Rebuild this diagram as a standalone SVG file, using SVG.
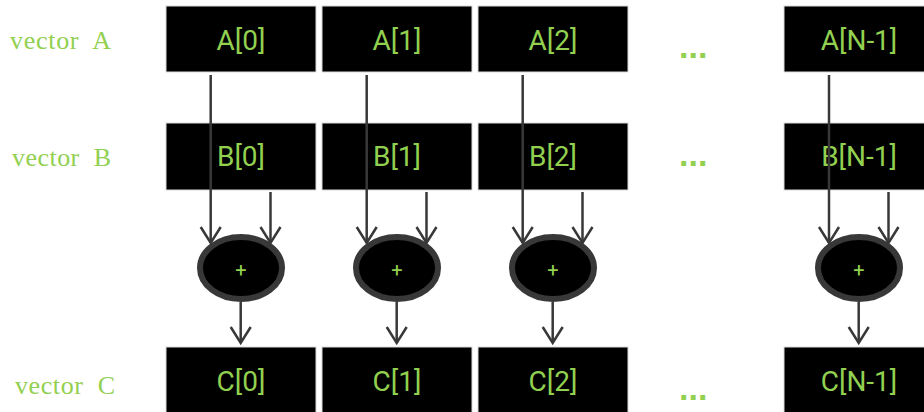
<svg xmlns="http://www.w3.org/2000/svg" width="924" height="412" viewBox="0 0 924 412">
<defs>
<style>
.box{fill:#000;stroke:#d9d9d9;stroke-width:1}
.bt{font-family:Roboto,"Liberation Sans",sans-serif;font-size:28px;fill:#92d050;text-anchor:middle}
.lbl{font-family:"Liberation Serif",serif;font-size:26px;fill:#92d050}
.dots{font-family:"Liberation Sans",sans-serif;font-weight:bold;font-size:34px;fill:#92d050}
.op{fill:#000;stroke:#383838;stroke-width:6}
.pt{font-family:Roboto,"Liberation Sans",sans-serif;font-size:20px;fill:#92d050;text-anchor:middle}
.ln{fill:none;stroke:#383838;stroke-width:2.5;marker-end:url(#ah)}
</style>
<marker id="ah" markerUnits="userSpaceOnUse" viewBox="-20 -14 24 28" markerWidth="24" markerHeight="28" refX="0" refY="0" orient="auto" overflow="visible">
<path d="M-16,-10 L0,0 L-16,10" fill="none" stroke="#383838" stroke-width="2.5"/>
</marker>
</defs>
<g id="labels">
<text class="lbl" x="10" y="48.5" textLength="101" xml:space="preserve">vector  A</text>
<text class="lbl" x="12" y="165.5" textLength="99" xml:space="preserve">vector  B</text>
<text class="lbl" x="15" y="394" textLength="100" xml:space="preserve">vector  C</text>
<text class="dots" x="679" y="58">...</text>
<text class="dots" x="679" y="165.5">...</text>
<text class="dots" x="679" y="400">...</text>
</g>
<g id="A0"><rect class="box" x="166" y="6" width="150" height="66"/><text class="bt" x="241" y="50">A[0]</text></g>
<g id="A1"><rect class="box" x="322" y="6" width="150" height="66"/><text class="bt" x="397" y="50">A[1]</text></g>
<g id="A2"><rect class="box" x="478" y="6" width="150" height="66"/><text class="bt" x="553" y="50">A[2]</text></g>
<g id="AN"><rect class="box" x="784" y="6" width="150" height="66"/><text class="bt" x="859" y="50">A[N-1]</text></g>
<g id="B0"><rect class="box" x="166" y="123" width="150" height="67"/><text class="bt" x="241" y="165.5">B[0]</text></g>
<g id="B1"><rect class="box" x="322" y="123" width="150" height="67"/><text class="bt" x="397" y="165.5">B[1]</text></g>
<g id="B2"><rect class="box" x="478" y="123" width="150" height="67"/><text class="bt" x="553" y="165.5">B[2]</text></g>
<g id="BN"><rect class="box" x="784" y="123" width="150" height="67"/><text class="bt" x="859" y="165.5">B[N-1]</text></g>
<g id="C0"><rect class="box" x="166" y="347" width="150" height="70"/><text class="bt" x="241" y="390.5">C[0]</text></g>
<g id="C1"><rect class="box" x="322" y="347" width="150" height="70"/><text class="bt" x="397" y="390.5">C[1]</text></g>
<g id="C2"><rect class="box" x="478" y="347" width="150" height="70"/><text class="bt" x="553" y="390.5">C[2]</text></g>
<g id="CN"><rect class="box" x="784" y="347" width="150" height="70"/><text class="bt" x="859" y="390.5">C[N-1]</text></g>
<g id="connectors">
<line class="ln" x1="210.7" y1="75" x2="210.7" y2="243"/>
<line class="ln" x1="270.5" y1="192" x2="270.5" y2="243"/>
<line class="ln" x1="240.7" y1="302" x2="240.7" y2="343"/>
<line class="ln" x1="366.7" y1="75" x2="366.7" y2="243"/>
<line class="ln" x1="426.5" y1="192" x2="426.5" y2="243"/>
<line class="ln" x1="396.7" y1="302" x2="396.7" y2="343"/>
<line class="ln" x1="522.7" y1="75" x2="522.7" y2="243"/>
<line class="ln" x1="582.5" y1="192" x2="582.5" y2="243"/>
<line class="ln" x1="552.7" y1="302" x2="552.7" y2="343"/>
<line class="ln" x1="829" y1="75" x2="829" y2="243"/>
<line class="ln" x1="888.5" y1="192" x2="888.5" y2="243"/>
<line class="ln" x1="858.7" y1="302" x2="858.7" y2="343"/>
</g>
<g id="add0"><ellipse class="op" cx="241" cy="268" rx="41" ry="31"/><text class="pt" x="241" y="277">+</text></g>
<g id="add1"><ellipse class="op" cx="397" cy="268" rx="41" ry="31"/><text class="pt" x="397" y="277">+</text></g>
<g id="add2"><ellipse class="op" cx="553" cy="268" rx="41" ry="31"/><text class="pt" x="553" y="277">+</text></g>
<g id="addN"><ellipse class="op" cx="859" cy="268" rx="41" ry="31"/><text class="pt" x="859" y="277">+</text></g>
</svg>
